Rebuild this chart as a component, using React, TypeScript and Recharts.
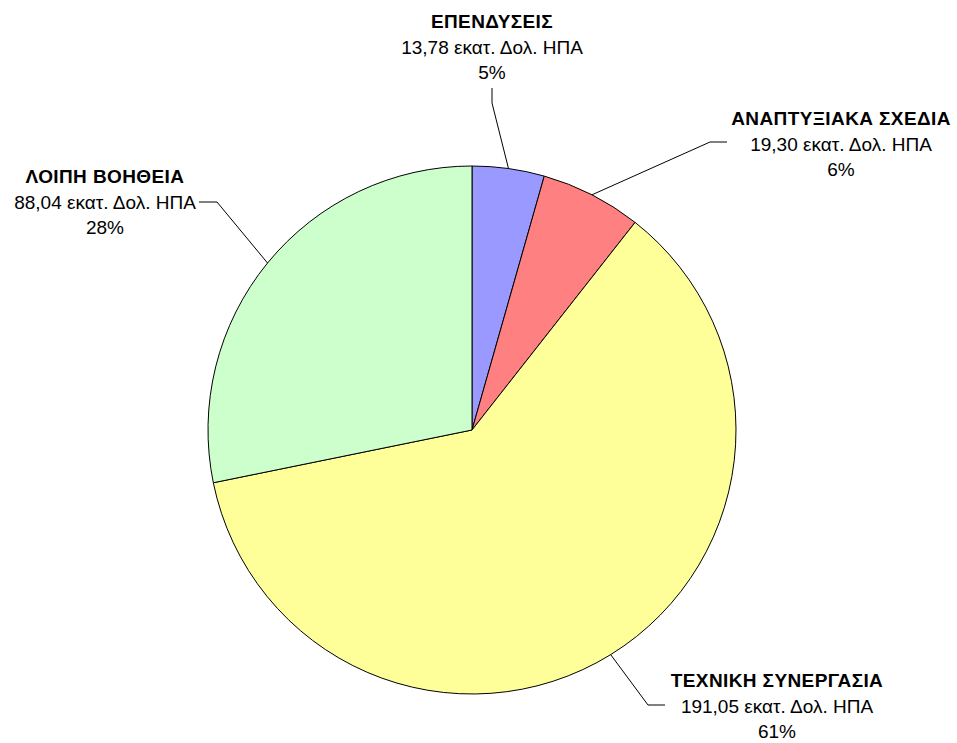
import React from 'react';
import { PieChart, Pie, Cell } from 'recharts';

const categories = ['ΕΠΕΝΔΥΣΕΙΣ', 'ΑΝΑΠΤΥΞΙΑΚΑ ΣΧΕΔΙΑ', 'ΤΕΧΝΙΚΗ ΣΥΝΕΡΓΑΣΙΑ', 'ΛΟΙΠΗ ΒΟΗΘΕΙΑ'];
const values = [13.78, 19.3, 191.05, 88.04];
const valueLabels = ['13,78', '19,30', '191,05', '88,04'];
const percentLabels = ['5%', '6%', '61%', '28%'];
const colors = ['#9999FF', '#FF8080', '#FFFF99', '#CCFFCC'];

const data = categories.map((name, i) => ({ name, value: values[i] }));

// label layout relative to pie center: text center x, first baseline y, elbow point, leader end point
const CX = 472;
const CY = 430;
const R = 264;
const labelLayout = [
  { tx: 20, ty: -402, elbow: [20, -327], end: [20, -342] },
  { tx: 369, ty: -305, elbow: [238, -288], end: [255, -288] },
  { tx: 305, ty: 257, elbow: [176, 275], end: [193, 275] },
  { tx: -367, ty: -247, elbow: [-255, -228], end: [-273, -228] },
];

const RAD = Math.PI / 180;
const FONT = 'Liberation Sans, Arial, sans-serif';

const renderLabel = (props: any) => {
  const { cx, cy, midAngle, outerRadius, index } = props;
  const L = labelLayout[index];
  const sx = cx + outerRadius * Math.cos(-midAngle * RAD);
  const sy = cy + outerRadius * Math.sin(-midAngle * RAD);
  const ex = cx + L.elbow[0];
  const ey = cy + L.elbow[1];
  const fx = cx + L.end[0];
  const fy = cy + L.end[1];
  const tx = cx + L.tx;
  const ty = cy + L.ty;
  return (
    <g key={`lbl-${index}`}>
      <path d={`M${sx},${sy}L${ex},${ey}L${fx},${fy}`} stroke="#000" strokeWidth={1} fill="none" />
      <text x={tx} y={ty} textAnchor="middle" fontFamily={FONT} fontSize={19} fontWeight="bold" letterSpacing={0.4} fill="#000">
        {categories[index]}
      </text>
      <text x={tx} y={ty + 26} textAnchor="middle" fontFamily={FONT} fontSize={19} fill="#000">
        {`${valueLabels[index]} εκατ. Δολ. ΗΠΑ`}
      </text>
      <text x={tx} y={ty + 51} textAnchor="middle" fontFamily={FONT} fontSize={19} fill="#000">
        {percentLabels[index]}
      </text>
    </g>
  );
};

export default function App() {
  return (
    <div style={{ position: 'absolute', left: 0, top: 0, width: 957, height: 743, background: '#fff' }}>
      <PieChart width={957} height={743} margin={{ top: 0, right: 0, bottom: 0, left: 0 }}>
        <Pie
          data={data}
          dataKey="value"
          nameKey="name"
          cx={CX}
          cy={CY}
          outerRadius={R}
          startAngle={90}
          endAngle={-270}
          stroke="#000"
          strokeWidth={1}
          label={renderLabel}
          labelLine={false}
          isAnimationActive={false}
        >
          {data.map((d, i) => (
            <Cell key={d.name} fill={colors[i]} />
          ))}
        </Pie>
      </PieChart>
    </div>
  );
}
